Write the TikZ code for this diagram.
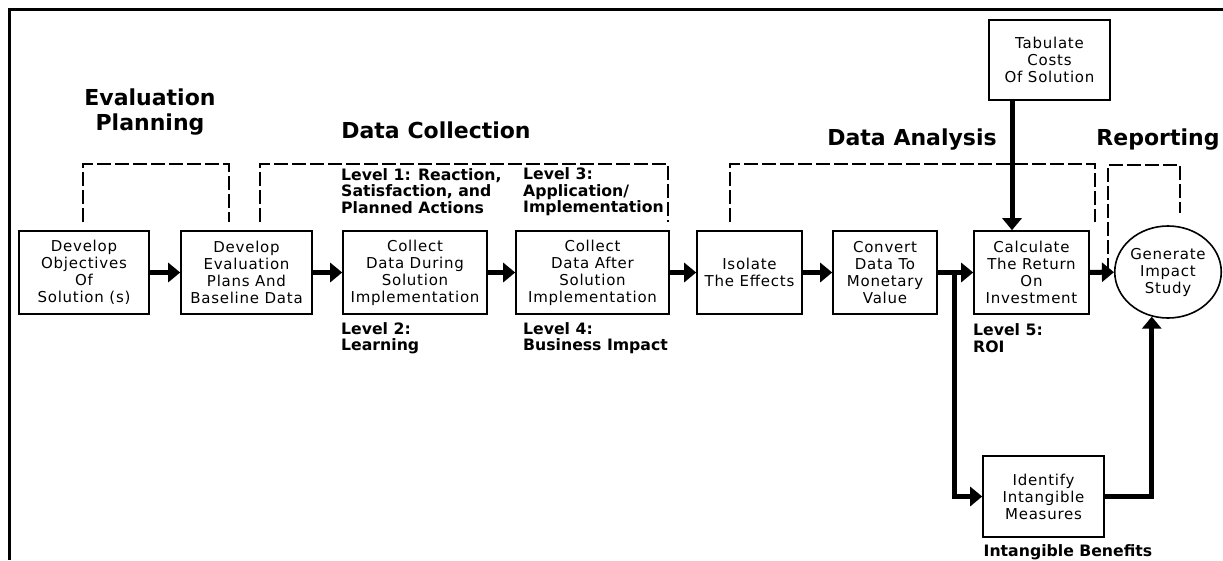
\documentclass[tikz,border=0pt]{standalone}
\usepackage{fontspec}
\setmainfont{DejaVu Sans}
\newfontfamily\boxfont[LetterSpace=5]{DejaVu Sans}
\usetikzlibrary{arrows.meta,shapes.geometric}

\begin{document}
\begin{tikzpicture}[x=1pt,y=-1pt,
	box/.style={draw,line width=1.6pt,minimum height=83pt,inner sep=0pt,align=center,font=\boxfont\fontsize{15}{17}\selectfont},
	heading/.style={align=center,font=\bfseries\fontsize{22}{25}\selectfont},
	level/.style={anchor=west,align=left,inner sep=0pt,font=\bfseries\fontsize{15.7}{16.5}\selectfont},
	flow/.style={line width=5pt,-{Triangle[length=12pt,width=19pt]}},
	bracket/.style={line width=1.8pt,dash pattern=on 14pt off 4pt}]
	\useasboundingbox (0,0) rectangle (1223,560);
	
	% frame
	\draw[line width=3pt] (1223,9) -- (9.5,9) -- (9.5,560);
	
	% steps
	\node[box,minimum width=130pt] (obj) at (84,272.5) {Develop\\Objectives\\Of\\Solution (s)};
	\node[box,minimum width=131pt] (plan) at (246.5,272.5) {Develop\\Evaluation\\Plans And\\Baseline Data};
	\node[box,minimum width=144pt] (during) at (415,272.5) {Collect\\Data During\\Solution\\Implementation};
	\node[box,minimum width=153pt] (after) at (592.5,272.5) {Collect\\Data After\\Solution\\Implementation};
	\node[box,minimum width=105pt] (isolate) at (749.5,272.5) {Isolate\\The Effects};
	\node[box,minimum width=104pt] (convert) at (885,272.5) {Convert\\Data To\\Monetary\\Value};
	\node[box,minimum width=115pt] (roi) at (1031.5,272.5) {Calculate\\The Return\\On\\Investment};
	\node[box,draw,ellipse,minimum width=102pt,minimum height=92pt] (gen) at (1168,272) {Generate\\Impact\\Study};
	\node[box,minimum width=121pt,minimum height=80pt] (tab) at (1049.5,60) {Tabulate\\Costs\\Of Solution};
	\node[box,minimum width=121pt,minimum height=81pt] (intang) at (1043.5,496.5) {Identify\\Intangible\\Measures};
	\coordinate (split) at (954,272.5);
	
	\draw[flow] (obj) -- (plan);
	\draw[flow] (plan) -- (during);
	\draw[flow] (during) -- (after);
	\draw[flow] (after) -- (isolate);
	\draw[flow] (isolate) -- (convert);
	\draw[flow] (convert) -- (roi);
	\draw[flow] (roi) -- (gen);
	\draw[flow] ([xshift=-37.5pt]tab.south) -- ([xshift=-19.5pt]roi.north);
	\draw[flow] (split) |- (intang.west);
	\draw[flow] (intang.east) -| (gen.250);
	
	% phase brackets
	\draw[bracket] (83,222) -- (83,164) -- (229,164) -- (229,222);
	\draw[bracket] (260,222) -- (260,164) -- (668,164) -- (668,222);
	\draw[bracket] (730,222) -- (730,164) -- (1095,164) -- (1095,222);
	\draw[bracket] (1108,272) -- (1108,165) -- (1180,165) -- (1180,213);
	
	\node[heading] (evalhead) at (150,112) {Evaluation\\Planning};
	\node[heading] (collecthead) at (436,130) {Data Collection};
	\node[heading] (analysishead) at (912,140) {Data Analysis};
	\node[heading] (reporthead) at (1158,140) {Reporting};
	
	% levels
	\node[level] (lvlone) at (341,191) {Level 1: Reaction,\\Satisfaction, and\\Planned Actions};
	\node[level] (lvlthree) at (523,192) {Level 3:\\Application/\\Implementation};
	\node[level] (lvltwo) at (341,338) {Level 2:\\Learning};
	\node[level] (lvlfour) at (523,338) {Level 4:\\Business Impact};
	\node[level] (lvlfive) at (973,338) {Level 5:\\ROI};
	\node[level,anchor=center] (intangben) at (1068,552) {Intangible Benefits};
\end{tikzpicture}
\end{document}
